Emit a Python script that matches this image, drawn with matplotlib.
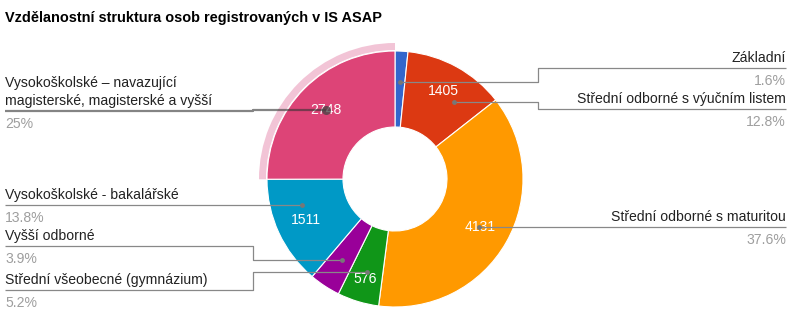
import numpy as np
import matplotlib.pyplot as plt
from matplotlib.patches import Wedge

W, H = 794, 329

categories = ['Základní',
              'Střední odborné s výučním listem',
              'Střední odborné s maturitou',
              'Střední všeobecné (gymnázium)',
              'Vyšší odborné',
              'Vysokoškolské - bakalářské',
              'Vysokoškolské – navazující\nmagisterské, magisterské a vyšší']
counts = [178, 1405, 4131, 576, 430, 1511, 2748]
show_value = [False, True, True, True, False, True, True]
colors = ['#3366cc', '#dc3912', '#ff9900', '#109618', '#990099', '#0099c6', '#dd4477']
highlight = 6

# label layout (pixels from the top-left corner)
sides = ['right', 'right', 'right', 'left', 'left', 'left', 'left']
underline_y = [68, 109, 227, 290, 246, 205, 111]
anchor_pos = [0.5, 0.68, 0.5, 0.5, 0.5, 0.69, 0.5]
value_r = [98, 100, 98, 104, 98, 98, 98]

cx, cy = 395, H - 179
R, R_in, R_lab = 128, 52, 97
FONT = 'Liberation Sans'
fs = 14 * 0.72

fig = plt.figure(figsize=(W / 100, H / 100), dpi=100)
ax = fig.add_axes([0, 0, 1, 1])

ax.pie(counts, colors=colors, radius=R, center=(cx, cy), startangle=90,
       counterclock=False,
       wedgeprops=dict(width=R - R_in, edgecolor='white', linewidth=0.8))

total = sum(counts)
frac = np.array(counts) / total
cum = np.concatenate([[0], np.cumsum(frac)])

# hover ring round the highlighted slice
t1 = 90 - 360 * cum[highlight + 1]
t2 = 90 - 360 * cum[highlight]
ax.add_patch(Wedge((cx, cy), R + 8, t1, t2, width=7, facecolor='#f2c4d6',
                   edgecolor='none'))

for i, name in enumerate(categories):
    # value inside the slice
    if show_value[i]:
        m = (cum[i] + cum[i + 1]) / 2 * 2 * np.pi
        ax.text(cx + value_r[i] * np.sin(m), cy + value_r[i] * np.cos(m),
                str(counts[i]), color='white', fontsize=fs, family=FONT,
                ha='center', va='center', zorder=3)

    # leader from the slice to the label
    a = (cum[i] + (cum[i + 1] - cum[i]) * anchor_pos[i]) * 2 * np.pi
    px, py = cx + R_lab * np.sin(a), cy + R_lab * np.cos(a)
    ul = H - underline_y[i]
    if sides[i] == 'right':
        elbow, end, ha = 538, 786, 'right'
    else:
        elbow, end, ha = 253, 5, 'left'
    if i == highlight:
        ax.plot([px, elbow, elbow, end], [py, py, ul, ul], color='#333333',
                alpha=0.6, lw=1.6, solid_capstyle='butt', zorder=4)
        ax.plot(px, py, 'o', color='#444444', alpha=0.75, ms=6.5, mec='none',
                zorder=5)
    else:
        ax.plot([px, elbow, elbow, end], [py, py, ul, ul], color='#888888',
                lw=0.9, solid_capstyle='butt', zorder=4)
        ax.plot(px, py, 'o', color='#777777', ms=3.5, mec='none', zorder=5)

    lines = name.split('\n')
    for k, line in enumerate(reversed(lines)):
        ax.text(end, ul + 6 + 18 * k, line, color='#222222', fontsize=fs,
                family=FONT, ha=ha, va='baseline')
    pct = f'{frac[i] * 100:.1f}'.rstrip('0').rstrip('.') + '%'
    ax.text(end, ul - 17, pct, color='#9e9e9e', fontsize=fs, family=FONT,
            ha=ha, va='baseline')

ax.text(5, H - 22, 'Vzdělanostní struktura osob registrovaných v IS ASAP',
        fontsize=14.5 * 0.72, fontweight='bold', family=FONT, color='#000000',
        ha='left', va='baseline')

ax.set_xlim(0, W)
ax.set_ylim(0, H)
ax.set_aspect('equal')
ax.axis('off')

fig.savefig('out.png', dpi=100)
